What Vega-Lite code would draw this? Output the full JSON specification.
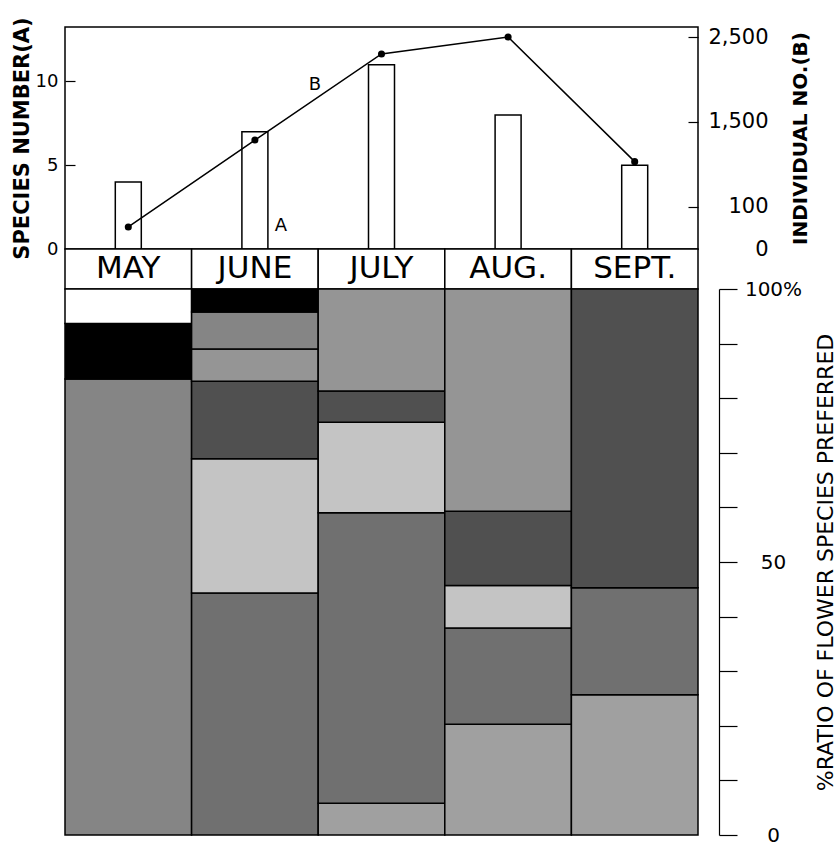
{
  "$schema": "https://vega.github.io/schema/vega-lite/v6.json",
  "padding": {"left": 10, "top": 16, "right": 0, "bottom": 0},
  "background": "white",
  "spacing": 0,
  "bounds": "flush",
  "config": {
    "font": "DejaVu Sans",
    "view": {"stroke": null},
    "axis": {"labelColor": "black", "titleColor": "black", "tickColor": "black", "domainColor": "black", "grid": false, "labelFont": "DejaVu Sans", "titleFont": "DejaVu Sans"}
  },
  "datasets": {
    "monthly": [
      {"month": "MAY", "species": 4, "individuals": 260},
      {"month": "JUNE", "species": 7, "individuals": 1285},
      {"month": "JULY", "species": 11, "individuals": 2300},
      {"month": "AUG.", "species": 8, "individuals": 2500},
      {"month": "SEPT.", "species": 5, "individuals": 1030}
    ],
    "annotations": [
      {"month": "JUNE", "label": "A", "species": 1.35},
      {"month": "JUNE", "label": "B", "species": 9.8}
    ],
    "preference": [
      {"month": "MAY", "pattern": "6 vertical lines", "percent": 83.5},
      {"month": "MAY", "pattern": "7 solid black", "percent": 10.2},
      {"month": "MAY", "pattern": "8 blank", "percent": 6.3},
      {"month": "JUNE", "pattern": "2 coarse hatch", "percent": 44.3},
      {"month": "JUNE", "pattern": "3 reticulate", "percent": 24.6},
      {"month": "JUNE", "pattern": "4 fine hatch", "percent": 14.2},
      {"month": "JUNE", "pattern": "5 zigzag", "percent": 5.9},
      {"month": "JUNE", "pattern": "6 vertical lines", "percent": 6.8},
      {"month": "JUNE", "pattern": "7 solid black", "percent": 4.2},
      {"month": "JULY", "pattern": "1 stippled", "percent": 5.8},
      {"month": "JULY", "pattern": "2 coarse hatch", "percent": 53.2},
      {"month": "JULY", "pattern": "3 reticulate", "percent": 16.6},
      {"month": "JULY", "pattern": "4 fine hatch", "percent": 5.7},
      {"month": "JULY", "pattern": "5 zigzag", "percent": 18.7},
      {"month": "AUG.", "pattern": "1 stippled", "percent": 20.3},
      {"month": "AUG.", "pattern": "2 coarse hatch", "percent": 17.6},
      {"month": "AUG.", "pattern": "3 reticulate", "percent": 7.8},
      {"month": "AUG.", "pattern": "4 fine hatch", "percent": 13.6},
      {"month": "AUG.", "pattern": "5 zigzag", "percent": 40.7},
      {"month": "SEPT.", "pattern": "1 stippled", "percent": 25.7},
      {"month": "SEPT.", "pattern": "2 coarse hatch", "percent": 19.6},
      {"month": "SEPT.", "pattern": "4 fine hatch", "percent": 54.7}
    ]
  },
  "vconcat": [
    {
      "width": 633,
      "height": 222,
      "view": {"stroke": "black", "strokeWidth": 1.5},
      "layer": [
        {
          "layer": [
            {
              "data": {"name": "monthly"},
              "mark": {"type": "bar", "width": 26, "fill": "white", "stroke": "black", "strokeWidth": 1.5},
              "encoding": {
                "x": {"field": "month", "type": "nominal", "scale": {"domain": ["MAY", "JUNE", "JULY", "AUG.", "SEPT."], "paddingInner": 0, "paddingOuter": 0}, "axis": null},
                "y": {"field": "species", "type": "quantitative", "scale": {"domain": [0, 13.25], "nice": false},
                  "axis": {"orient": "left", "values": [0, 5, 10], "domain": false, "tickSize": -10, "tickWidth": 1.2, "labelFontSize": 18, "labelPadding": 17, "title": "SPECIES NUMBER(A)", "titleFontSize": 21, "titleFontWeight": "bold", "titlePadding": 3}}
              }
            },
            {
              "data": {"name": "annotations"},
              "transform": [{"filter": "datum.label == 'A'"}],
              "mark": {"type": "text", "dx": 26, "fontSize": 18, "baseline": "middle"},
              "encoding": {
                "x": {"field": "month", "type": "nominal"},
                "y": {"field": "species", "type": "quantitative"},
                "text": {"field": "label"}
              }
            },
            {
              "data": {"name": "annotations"},
              "transform": [{"filter": "datum.label == 'B'"}],
              "mark": {"type": "text", "dx": 60, "fontSize": 18, "baseline": "middle"},
              "encoding": {
                "x": {"field": "month", "type": "nominal"},
                "y": {"field": "species", "type": "quantitative"},
                "text": {"field": "label"}
              }
            }
          ]
        },
        {
          "data": {"name": "monthly"},
          "layer": [
            {"mark": {"type": "line", "color": "black", "strokeWidth": 1.5}},
            {"mark": {"type": "point", "filled": true, "color": "black", "size": 50, "opacity": 1}}
          ],
          "encoding": {
            "x": {"field": "month", "type": "nominal"},
            "y": {"field": "individuals", "type": "quantitative", "scale": {"domain": [0, 2618], "nice": false},
              "axis": {"orient": "right", "values": [0, 500, 1500, 2500], "labelExpr": "datum.value == 500 ? '100' : format(datum.value, ',')", "domain": false, "tickSize": -10, "tickWidth": 1.2, "labelFontSize": 21, "labelAlign": "right", "labelPadding": 80, "title": "INDIVIDUAL NO.(B)", "titleAngle": 270, "titleFontSize": 20, "titleFontWeight": "bold", "titlePadding": 42}}
          }
        }
      ],
      "resolve": {"scale": {"y": "independent"}, "axis": {"y": "independent"}}
    },
    {
      "width": 633,
      "height": 40,
      "data": {"name": "monthly"},
      "encoding": {
        "x": {"field": "month", "type": "nominal", "scale": {"domain": ["MAY", "JUNE", "JULY", "AUG.", "SEPT."], "paddingInner": 0, "paddingOuter": 0}, "axis": null}
      },
      "layer": [
        {"mark": {"type": "bar", "fill": "white", "stroke": "black", "strokeWidth": 1.5}},
        {"mark": {"type": "text", "fontSize": 31, "baseline": "middle", "color": "black"}, "encoding": {"text": {"field": "month"}}}
      ]
    },
    {
      "width": 633,
      "height": 546,
      "data": {"name": "preference"},
      "mark": {"type": "bar", "stroke": "black", "strokeWidth": 1.5},
      "encoding": {
        "x": {"field": "month", "type": "nominal", "scale": {"domain": ["MAY", "JUNE", "JULY", "AUG.", "SEPT."], "paddingInner": 0, "paddingOuter": 0}, "axis": null},
        "y": {"field": "percent", "type": "quantitative", "stack": "zero", "scale": {"domain": [0, 100], "nice": false},
          "axis": {"orient": "right", "offset": 21, "values": [0, 10, 20, 30, 40, 50, 60, 70, 80, 90, 100], "labelExpr": "datum.value == 100 ? '100%' : (datum.value == 50 || datum.value == 0 ? datum.label : '')", "tickSize": 18, "tickWidth": 1.2, "domainWidth": 1.2, "labelFontSize": 20, "labelAlign": "center", "labelPadding": 36, "title": "%RATIO OF FLOWER SPECIES PREFERRED", "titleAngle": 270, "titleFontSize": 22, "titleFontWeight": "normal", "titlePadding": 36}},
        "color": {"field": "pattern", "type": "nominal", "legend": null,
          "scale": {"domain": ["1 stippled", "2 coarse hatch", "3 reticulate", "4 fine hatch", "5 zigzag", "6 vertical lines", "7 solid black", "8 blank"],
            "range": ["#a0a0a0", "#707070", "#c4c4c4", "#505050", "#959595", "#858585", "#000000", "#ffffff"]}},
        "order": {"field": "pattern", "type": "nominal"}
      }
    }
  ]
}
